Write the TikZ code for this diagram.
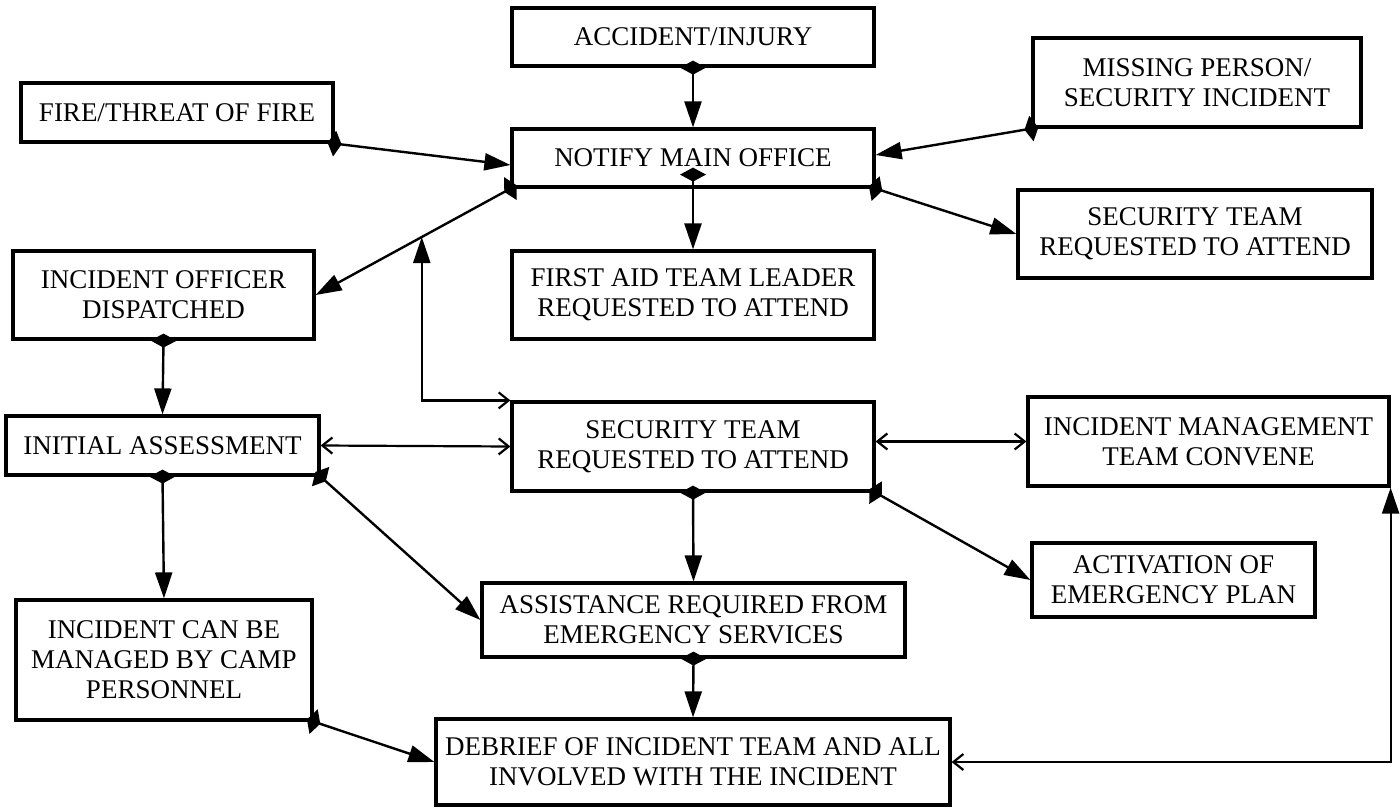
\documentclass[tikz,border=0pt]{standalone}
\usepackage{fontspec}
\setmainfont{Liberation Serif}
\usepackage{tikz}
\usetikzlibrary{arrows.meta}

\begin{document}
\begin{tikzpicture}[x=0.5pt, y=-0.5pt,
  font=\fontsize{13.5}{15}\selectfont,
  box/.style={draw, line width=1.6pt, align=center, inner sep=0pt},
  link/.style={line width=1.2pt, shorten <=-3.5pt,
    arrows={Diamond[length=7pt,width=13pt]-Triangle[length=13pt,width=8.5pt]}},
  both/.style={line width=1.1pt,
    arrows={Straight Barb[length=5pt,width=8pt]-Straight Barb[length=5pt,width=8pt]}}]
\useasboundingbox (0,0) rectangle (1400,807);
\node[box, minimum width=181pt, minimum height=29pt] (accident) at (693,37) {ACCIDENT/INJURY};
\node[box, minimum width=156pt, minimum height=29.5pt] (fire) at (177,112.5) {FIRE/THREAT OF FIRE};
\node[box, minimum width=181pt, minimum height=29pt] (notify) at (693,158) {NOTIFY MAIN OFFICE};
\node[box, minimum width=164pt, minimum height=44.5pt] (missing) at (1197,82.5) {MISSING PERSON/\\SECURITY INCIDENT};
\node[box, minimum width=177pt, minimum height=44pt] (sectop) at (1195,234) {SECURITY TEAM\\REQUESTED TO ATTEND};
\node[box, minimum width=150.5pt, minimum height=44pt] (officer) at (163.5,295) {INCIDENT OFFICER\\DISPATCHED};
\node[box, minimum width=181pt, minimum height=44pt] (firstaid) at (693,295) {FIRST AID TEAM LEADER\\REQUESTED TO ATTEND};
\node[box, minimum width=156.5pt, minimum height=29.5pt] (initial) at (162.5,445.5) {INITIAL ASSESSMENT};
\node[box, minimum width=181pt, minimum height=44.5pt] (secmid) at (693,446.5) {SECURITY TEAM\\REQUESTED TO ATTEND};
\node[box, minimum width=180.5pt, minimum height=44.5pt] (imt) at (1208.5,441.5) {INCIDENT MANAGEMENT\\TEAM CONVENE};
\node[box, minimum width=148pt, minimum height=60pt] (camp) at (164,660) {INCIDENT CAN BE\\MANAGED BY CAMP\\PERSONNEL};
\node[box, minimum width=211.5pt, minimum height=37pt] (assist) at (693.5,620) {ASSISTANCE REQUIRED FROM\\EMERGENCY SERVICES};
\node[box, minimum width=141.5pt, minimum height=37pt] (activation) at (1173.5,580) {ACTIVATION OF\\EMERGENCY PLAN};
\node[box, minimum width=257pt, minimum height=43pt] (debrief) at (693,762) {DEBRIEF OF INCIDENT TEAM AND ALL\\INVOLVED WITH THE INCIDENT};
\draw[link] (accident.south) -- (notify.north);
\draw[link] (fire.south east) -- ([yshift=-3.5pt]notify.west);
\draw[link] (missing.south west) -- ([yshift=1.5pt]notify.east);
\draw[link] (notify.south east) -- (sectop.west);
\draw[link] (notify.south west) -- coordinate[pos=0.455] (tap) (officer.east);
\draw[link] ([yshift=7pt]notify.south) -- (firstaid.north);
\draw[line width=1.1pt, arrows={Triangle[length=13pt,width=8.5pt]-Straight Barb[length=5pt,width=8pt]}]
  (tap) -- (tap |- secmid.north west) -- (secmid.north west);
\draw[link] (officer.south) -- (initial.north);
\draw[both] (initial.east) -- (secmid.west);
\draw[link] (initial.south) -- (camp.north);
\draw[link] (initial.south east) -- (assist.west);
\draw[link] (secmid.south) -- (assist.north);
\draw[both] (imt.west -| secmid.east) -- (imt.west);
\draw[link] (secmid.south east) -- (activation.west);
\draw[link] (assist.south) -- (debrief.north);
\draw[link] (camp.south east) -- (debrief.west);
\draw[line width=1.1pt, arrows={Straight Barb[length=5pt,width=8pt]-Triangle[length=13pt,width=8.5pt]}]
  (debrief.east) -- (imt.south east |- debrief.east) -- (imt.south east);
\end{tikzpicture}
\end{document}
